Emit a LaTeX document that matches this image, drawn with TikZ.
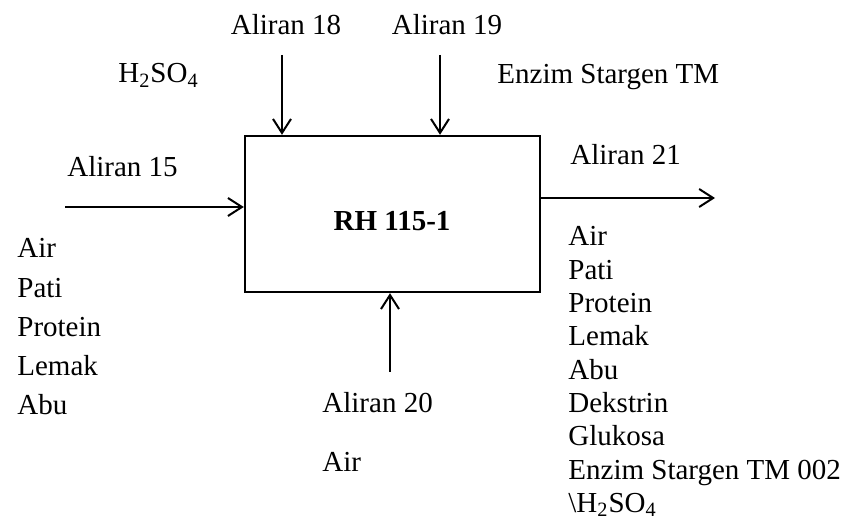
\documentclass[tikz,border=0pt]{standalone}
\usepackage{fontspec}
\setmainfont{Liberation Serif}
\usetikzlibrary{arrows.meta}

\begin{document}
\begin{tikzpicture}[x=0.5pt, y=-0.5pt,
    every node/.style={font=\fontsize{14.5}{17}\selectfont, inner sep=0pt},
    lbl/.style={anchor=base west},
    flow/.style={line width=1pt, -{Straight Barb[length=7pt, width=9pt, line width=1pt]}}]
    \useasboundingbox (0,0) rectangle (849,522);

    % Reactor
    \node[draw, line width=1.2pt, minimum width=147.5pt, minimum height=78pt] (rh) at (392.5,214) {};
    \node[anchor=base, font=\fontsize{14.5}{17}\selectfont\bfseries] (rhname) at (392,231) {RH 115-1};

    % Aliran 15 (input)
    \coordinate (s15) at (65,207);
    \draw[flow] (s15) -- (rh.west |- s15);
    \node[lbl] (a15) at (67,177) {Aliran 15};
    \foreach \t [count=\i from 0] in {Air,Pati,Protein,Lemak,Abu}
        \node[lbl] (c15\i) at (17,258+39.25*\i) {\t};

    % Aliran 18 (asam)
    \coordinate (s18) at (282,55);
    \draw[flow] (s18) -- (rh.north -| s18);
    \node[anchor=base] (a18) at (286,35) {Aliran 18};
    \node[lbl] (h2so4) at (118,83) {H\textsubscript{2}SO\textsubscript{4}};

    % Aliran 19 (enzim)
    \coordinate (s19) at (440,55);
    \draw[flow] (s19) -- (rh.north -| s19);
    \node[anchor=base] (a19) at (447,35) {Aliran 19};
    \node[lbl] (enzim) at (497,84) {Enzim Stargen TM};

    % Aliran 20 (air)
    \coordinate (s20) at (390,372);
    \draw[flow] (s20) -- (rh.south -| s20);
    \node[lbl] (a20) at (322,413) {Aliran 20};
    \node[lbl] (c20) at (322,471) {Air};

    % Aliran 21 (output)
    \coordinate (s21) at (715,198);
    \draw[flow] (rh.east |- s21) -- (s21);
    \node[lbl] (a21) at (570,165) {Aliran 21};
    \foreach \t [count=\i from 0] in {Air,Pati,Protein,Lemak,Abu,Dekstrin,Glukosa,Enzim Stargen TM 002,{\textbackslash H\textsubscript{2}SO\textsubscript{4}}}
        \node[lbl] (c21\i) at (568,246+33.3*\i) {\t};
\end{tikzpicture}
\end{document}
